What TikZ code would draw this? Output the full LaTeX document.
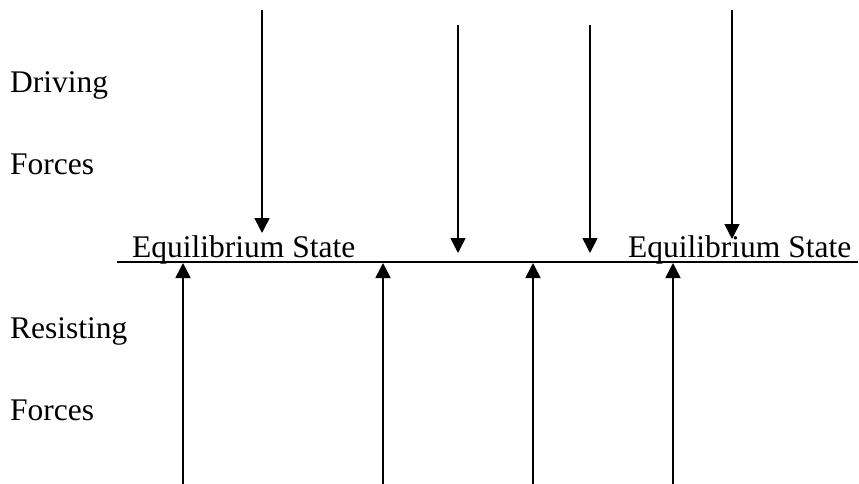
\documentclass[tikz,border=0pt]{standalone}
\usepackage{fontspec}
\setmainfont{Liberation Serif}
\usetikzlibrary{arrows.meta}
\begin{document}
\begin{tikzpicture}[x=1pt,y=-1pt,
  lbl/.style={anchor=base west,inner sep=0pt,font=\fontsize{31.5}{36}\selectfont},
  force/.style={line width=1.6pt,-{Triangle[length=15pt,width=15pt]}},
  base/.style={line width=1.6pt}]
\useasboundingbox (0,0) rectangle (859,484);
% labels
\node[lbl] (drv) at (10,93) {Driving};
\node[lbl] (fo1) at (10,175) {Forces};
\node[lbl] (res) at (10,338) {Resisting};
\node[lbl] (fo2) at (10,420) {Forces};
\node[lbl] (eq1) at (132,257) {Equilibrium State};
\node[lbl] (eq2) at (628,257) {Equilibrium State};
% equilibrium line
\coordinate (l0) at (117,262);
\coordinate (l1) at (858,262);
\draw[base] (l0) -- (l1);
% driving forces
\coordinate (d1s) at (262,10);  \coordinate (d1e) at (262,233);
\coordinate (d2s) at (458,25);  \coordinate (d2e) at (458,253);
\coordinate (d3s) at (590,25);  \coordinate (d3e) at (590,253);
\coordinate (d4s) at (732,10);  \coordinate (d4e) at (732,239);
\foreach \i in {1,...,4} \draw[force] (d\i s) -- (d\i e);
% resisting forces
\coordinate (r1s) at (183,484); \coordinate (r1e) at (183,263);
\coordinate (r2s) at (383,484); \coordinate (r2e) at (383,263);
\coordinate (r3s) at (533,484); \coordinate (r3e) at (533,263);
\coordinate (r4s) at (673,484); \coordinate (r4e) at (673,263);
\foreach \i in {1,...,4} \draw[force] (r\i s) -- (r\i e);
\end{tikzpicture}
\end{document}
